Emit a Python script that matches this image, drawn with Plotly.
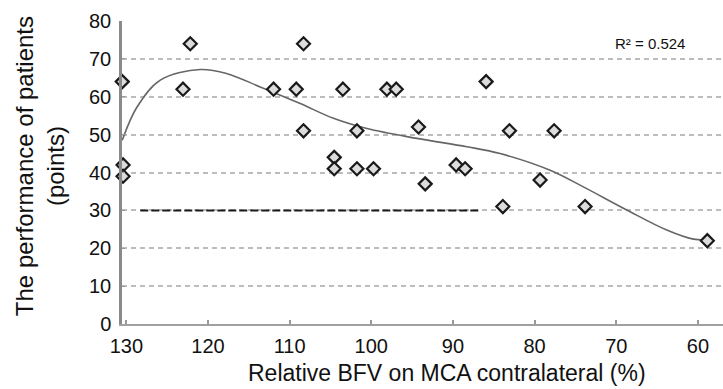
import plotly.graph_objects as go

# Patient data: relative BFV (%) vs performance (points)
bfv = [130.5, 130.4, 130.4, 122.17, 123.06, 111.97, 109.19, 108.30, 108.30,
       103.48, 104.54, 104.54, 101.76, 101.76, 99.73, 98.09, 96.95, 85.94,
       94.22, 83.08, 77.61, 89.61, 88.51, 93.40, 79.33, 83.89, 73.82, 58.85]
performance = [64, 42, 39, 74, 62, 62, 62, 74, 51,
               62, 44, 41, 51, 41, 41, 62, 62, 64,
               52, 51, 51, 42, 41, 37, 38, 31, 31, 22]

# Trendline
trend_x = [130.5, 128.69, 125.84, 120.94, 117.67, 113.60, 108.70, 104.63, 100.54,
           94.42, 88.30, 84.22, 78.10, 74.03, 68.71, 63.82, 60.56, 58.92]
trend_y = [48.5, 57.3, 64.4, 67.2, 66.1, 62.6, 58.2, 54.3, 51.6,
           49.0, 46.8, 45.0, 40.6, 36.2, 30.1, 24.8, 22.4, 22.2]

# Threshold dashed line
thresh_x = [128.29, 86.67]
thresh_y = [30, 30]

x_ticks = [130, 120, 110, 100, 90, 80, 70, 60]
y_ticks = [0, 10, 20, 30, 40, 50, 60, 70, 80]

fig = go.Figure()
fig.add_trace(go.Scatter(x=thresh_x, y=thresh_y, mode="lines",
                         line=dict(color="#1a1a1a", width=2, dash="8px,3px"),
                         showlegend=False, hoverinfo="skip"))
fig.add_trace(go.Scatter(x=trend_x, y=trend_y, mode="lines",
                         line=dict(color="#666666", width=1.6, shape="spline", smoothing=1.0),
                         showlegend=False, hoverinfo="skip"))
fig.add_trace(go.Scatter(x=bfv, y=performance, mode="markers",
                         marker=dict(symbol="diamond", size=10, color="#dcdcdc",
                                     line=dict(color="#1a1a1a", width=2.2)),
                         cliponaxis=False, showlegend=False))

fig.update_layout(
    width=723, height=389,
    margin=dict(l=122, r=0, t=21, b=65),
    paper_bgcolor="white", plot_bgcolor="white",
    font=dict(family="Liberation Sans, Arial, sans-serif", color="#111111"),
    xaxis=dict(range=[130.53, 56.93], tickvals=x_ticks, ticks="inside", ticklen=4,
               tickcolor="#999999", tickwidth=1.5, ticklabelstandoff=3,
               showgrid=False, zeroline=False, showline=True, linecolor="#a0a0a0",
               linewidth=2, tickfont=dict(size=20)),
    yaxis=dict(range=[0, 80], tickvals=y_ticks, ticks="inside", ticklen=3,
               tickcolor="#999999", ticklabelstandoff=4,
               showgrid=True, gridcolor="#bcbcbc", griddash="5px,4px", gridwidth=1.5,
               zeroline=False, showline=True, linecolor="#8a8a8a", linewidth=2.5,
               tickfont=dict(size=20)),
    annotations=[
        dict(text="The performance of patients<br>(points)", textangle=-90,
             x=0, xref="paper", y=0.521, yref="paper", xanchor="center", yanchor="middle",
             xshift=-82, showarrow=False, font=dict(size=24)),
        dict(text="Relative BFV on MCA contralateral (%)",
             x=0.541, xref="paper", y=-0.163, yref="paper", xanchor="center", yanchor="middle",
             showarrow=False, font=dict(size=23)),
        dict(text="R² = 0.524", x=0.878, xref="paper", y=0.926, yref="paper",
             xanchor="center", yanchor="middle", showarrow=False, font=dict(size=15)),
    ],
)

fig.write_html("out.html")
